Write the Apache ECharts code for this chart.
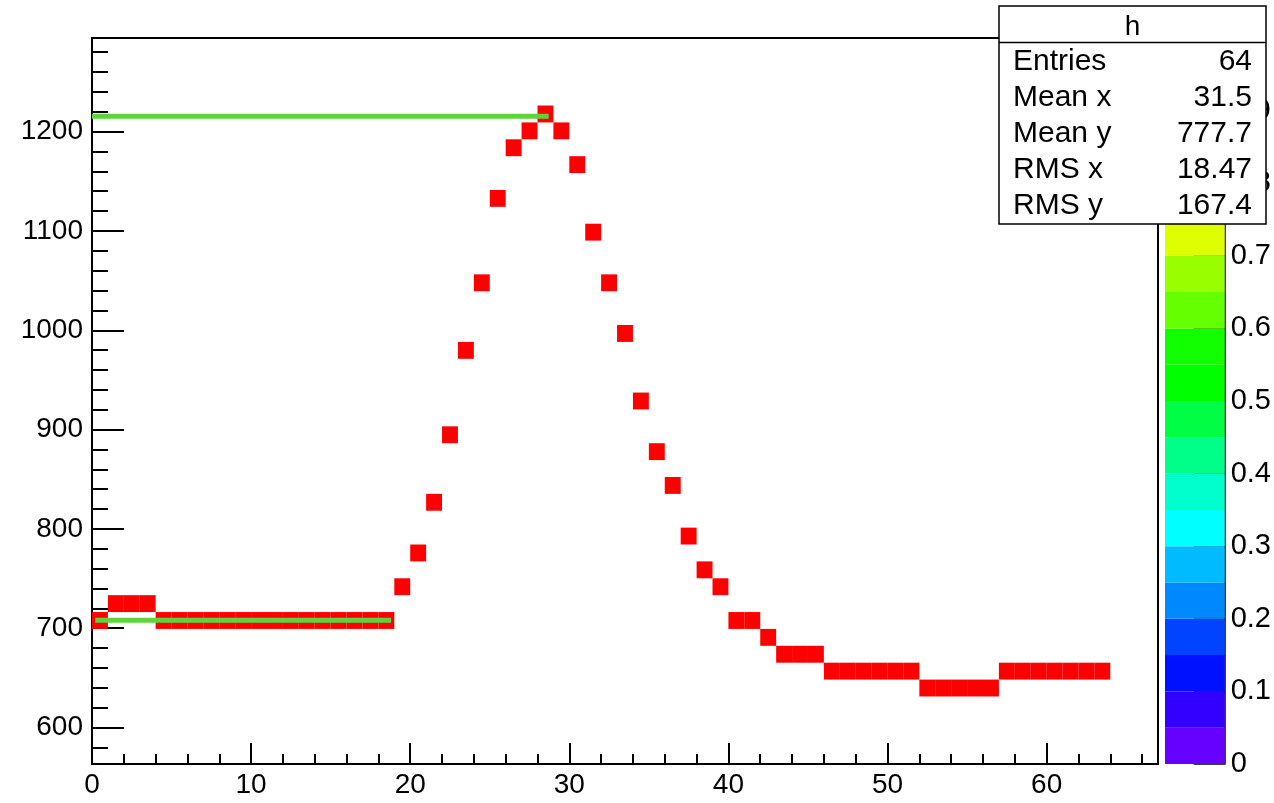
<!DOCTYPE html>
<html>
<head>
<meta charset="utf-8">
<script src="https://cdn.jsdelivr.net/npm/echarts@6/dist/echarts.min.js"></script>
<style>html,body{margin:0;padding:0;background:#fff;}#c{width:1274px;height:803px;}</style>
</head>
<body>
<div id="c"></div>
<script>
// ---- data ----
const xBins = [0,1,2,3,4,5,6,7,8,9,10,11,12,13,14,15,16,17,18,19,20,21,22,23,24,25,26,27,28,29,30,31,
  32,33,34,35,36,37,38,39,40,41,42,43,44,45,46,47,48,49,50,51,52,53,54,55,56,57,58,59,60,61,62,63];
const yValues = [
  707.8, 724.8, 724.8, 724.8,
  707.8, 707.8, 707.8, 707.8, 707.8, 707.8, 707.8, 707.8, 707.8, 707.8, 707.8, 707.8, 707.8, 707.8, 707.8,
  741.8, 775.8, 826.8, 894.8, 979.8, 1047.8, 1132.8, 1183.8, 1200.8, 1217.8, 1200.8, 1166.8, 1098.8,
  1047.8, 996.8, 928.8, 877.8, 843.8, 792.8, 758.8, 741.8,
  707.8, 707.8, 690.8, 673.8, 673.8, 673.8,
  656.8, 656.8, 656.8, 656.8, 656.8, 656.8,
  639.8, 639.8, 639.8, 639.8, 639.8,
  656.8, 656.8, 656.8, 656.8, 656.8, 656.8, 656.8
];
const binWidthX = 1;
const binHeightY = 17.0;
const xRange = [0, 67];
const yRange = [563.3, 1294.3];
const lineMax = [[0, 1215.5], [28.7, 1215.5]];
const lineMin = [[0.2, 708.0], [18.8, 708.0]];
const paletteEdges = [0, 0.05, 0.1, 0.15, 0.2, 0.25, 0.3, 0.35, 0.4, 0.45, 0.5,
  0.55, 0.6, 0.65, 0.7, 0.75, 0.8, 0.85, 0.9, 0.95, 1.0];
const paletteColors = ['#6600ff', '#3300ff', '#0011ff', '#0044ff', '#0088ff', '#00bbff', '#00ffff',
  '#00ffcc', '#00ff88', '#00ff44', '#00ff00', '#11ff00', '#66ff00', '#99ff00', '#ddff00',
  '#ffee00', '#ffbb00', '#ff8800', '#ff5500', '#ff0000'];
const statsTitle = 'h';
const statsLabels = ['Entries', 'Mean x', 'Mean y', 'RMS x', 'RMS y'];
const statsValues = ['64', '31.5', '777.7', '18.47', '167.4'];

// ---- chart ----
const FONT = "'Liberation Sans', Arial, Helvetica, sans-serif";
const chart = echarts.init(document.getElementById('c'), null, {renderer: 'canvas'});

const cellData = xBins.map((x, i) => [x, yValues[i]]);
const paletteData = paletteColors.map((c, i) => [paletteEdges[i], paletteEdges[i + 1], i]);

const statsElems = [
  {type: 'rect', z: 100, shape: {x: 999, y: 6, width: 267, height: 218},
   style: {fill: '#fff', stroke: '#000', lineWidth: 1.5}},
  {type: 'line', z: 101, shape: {x1: 999, y1: 42.5, x2: 1266, y2: 42.5}, style: {stroke: '#000', lineWidth: 1.5}},
  {type: 'text', z: 101, x: 1132.5, y: 27, style: {text: statsTitle, font: '28px ' + FONT, fill: '#000',
    textAlign: 'center', textVerticalAlign: 'middle'}}
];
statsLabels.forEach((lab, i) => {
  const yc = 62 + i * 36;
  statsElems.push({type: 'text', z: 101, x: 1013, y: yc, style: {text: lab, font: '30px ' + FONT, fill: '#000',
    textAlign: 'left', textVerticalAlign: 'middle'}});
  statsElems.push({type: 'text', z: 101, x: 1252, y: yc, style: {text: statsValues[i], font: '30px ' + FONT, fill: '#000',
    textAlign: 'right', textVerticalAlign: 'middle'}});
});

const option = {
  backgroundColor: '#fff',
  animation: false,
  grid: [
    {left: 92, top: 38, width: 1066, height: 726, show: true, borderColor: '#000', borderWidth: 2,
     backgroundColor: 'transparent'},
    {left: 1165, top: 38, width: 60, height: 726, show: false}
  ],
  xAxis: [
    {type: 'value', gridIndex: 0, min: xRange[0], max: xRange[1], splitNumber: 7,
     axisLine: {show: true, onZero: false, lineStyle: {color: '#000', width: 2}},
     axisTick: {show: true, inside: true, length: 21, lineStyle: {color: '#000', width: 2}},
     minorTick: {show: true, splitNumber: 5, length: 10, lineStyle: {color: '#000', width: 2}},
     splitLine: {show: false},
     axisLabel: {show: true, showMaxLabel: false, margin: 7, color: '#000', fontSize: 28, fontFamily: FONT,
       formatter: v => String(v)}},
    {type: 'value', gridIndex: 1, min: 0, max: 1, show: false}
  ],
  yAxis: [
    {type: 'value', gridIndex: 0, min: yRange[0], max: yRange[1], splitNumber: 7,
     axisLine: {show: true, onZero: false, lineStyle: {color: '#000', width: 2}},
     axisTick: {show: true, inside: true, length: 32, lineStyle: {color: '#000', width: 2}},
     minorTick: {show: true, splitNumber: 5, length: 16, lineStyle: {color: '#000', width: 2}},
     splitLine: {show: false},
     axisLabel: {show: true, showMinLabel: false, showMaxLabel: false, margin: 9, color: '#000',
       fontSize: 28, fontFamily: FONT, formatter: v => String(Math.round(v))}},
    {type: 'value', gridIndex: 1, min: 0, max: 1, interval: 0.1, position: 'right',
     axisLine: {show: true, onZero: false, lineStyle: {color: '#000', width: 1.5}},
     axisTick: {show: true, inside: true, length: 31, lineStyle: {color: '#000', width: 1.5}},
     splitLine: {show: false},
     axisLabel: {show: true, margin: 6, color: '#000', fontSize: 29, fontFamily: FONT,
       formatter: v => (Math.abs(v) < 1e-9 ? '0' : (Math.round(v * 10) / 10).toString())}}
  ],
  series: [
    {type: 'custom', xAxisIndex: 0, yAxisIndex: 0, data: cellData, clip: true, z: 2,
     renderItem: function (params, api) {
       const x0 = api.value(0), yc = api.value(1);
       const p1 = api.coord([x0, yc + binHeightY / 2]);
       const p2 = api.coord([x0 + binWidthX, yc - binHeightY / 2]);
       return {type: 'rect', shape: {x: p1[0], y: p1[1], width: p2[0] - p1[0], height: p2[1] - p1[1]},
         style: {fill: '#ff0000'}};
     }},
    {type: 'line', xAxisIndex: 0, yAxisIndex: 0, data: lineMin, symbol: 'none', z: 3,
     lineStyle: {color: '#5fd43a', width: 5}},
    {type: 'line', xAxisIndex: 0, yAxisIndex: 0, data: lineMax, symbol: 'none', z: 3,
     lineStyle: {color: '#5fd43a', width: 5}},
    {type: 'custom', xAxisIndex: 1, yAxisIndex: 1, data: paletteData, z: 1,
     renderItem: function (params, api) {
       const lo = api.value(0), hi = api.value(1), ci = api.value(2);
       const p1 = api.coord([0, hi]);
       const p2 = api.coord([1, lo]);
       return {type: 'rect', shape: {x: p1[0], y: p1[1], width: p2[0] - p1[0], height: p2[1] - p1[1]},
         style: {fill: paletteColors[ci]}};
     }}
  ],
  graphic: {elements: statsElems}
};
chart.setOption(option);
</script>
</body>
</html>
